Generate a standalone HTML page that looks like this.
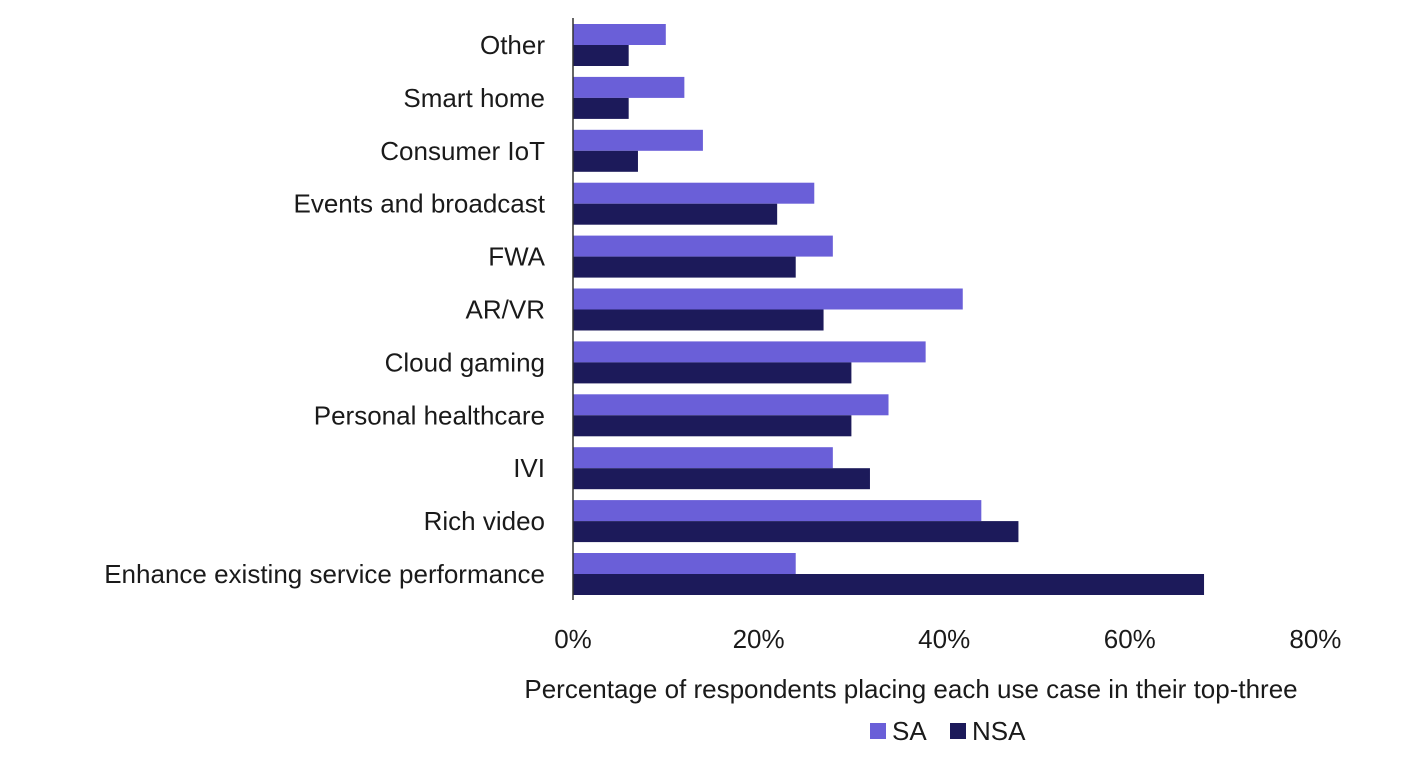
<!DOCTYPE html>
<html><head><meta charset="utf-8"><style>
body{margin:0;background:#fff;width:1415px;height:761px;overflow:hidden;font-family:"Liberation Sans",sans-serif}
text{font-family:"Liberation Sans",sans-serif;fill:#1a1a1a}
</style></head><body>
<svg id="chart" width="1415" height="761" xmlns="http://www.w3.org/2000/svg"></svg>
<script>
const categories=["Other","Smart home","Consumer IoT","Events and broadcast","FWA","AR/VR","Cloud gaming","Personal healthcare","IVI","Rich video","Enhance existing service performance"];
const saValues=[10,12,14,26,28,42,38,34,28,44,24];
const nsaValues=[6,6,7,22,24,27,30,30,32,48,68];
const tickLabels=["0%","20%","40%","60%","80%"];
const tickValues=[0,20,40,60,80];
const svg=document.getElementById('chart');
const NS="http://www.w3.org/2000/svg";
const x0=573,pxPer=9.28,top0=24,pitch=52.9,bh=21;
const xs=v=>x0+v*pxPer;
function mk(t,a){const e=document.createElementNS(NS,t);for(const k in a)e.setAttribute(k,a[k]);svg.appendChild(e);return e;}
categories.forEach((c,i)=>{
 const y=top0+i*pitch;
 const r1=mk('rect',{x:x0,y:y,width:xs(saValues[i])-x0,height:bh,fill:'#6a5fd8'});
 
 
 const r2=mk('rect',{x:x0,y:y+bh,width:xs(nsaValues[i])-x0,height:bh,fill:'#1c1a5a'});
 
 
 const t=mk('text',{x:545,y:y+bh+9,'text-anchor':'end','font-size':26});
 t.textContent=c;
 
 
});
const ax=mk('line',{x1:x0,y1:18,x2:x0,y2:600,stroke:'#333','stroke-width':1.5});


tickValues.forEach((v,i)=>{
 const t=mk('text',{x:xs(v),y:648,'text-anchor':'middle','font-size':26});
 t.textContent=tickLabels[i];
 
 
});
const xt=mk('text',{x:911,y:698,'text-anchor':'middle','font-size':26});
xt.textContent="Percentage of respondents placing each use case in their top-three";


const l1=mk('rect',{x:870,y:723,width:16,height:16,fill:'#6a5fd8'});


const lt1=mk('text',{x:892,y:740,'font-size':26});lt1.textContent="SA";


const l2=mk('rect',{x:950,y:723,width:16,height:16,fill:'#1c1a5a'});


const lt2=mk('text',{x:972,y:740,'font-size':26});lt2.textContent="NSA";


</script>
</body></html>
